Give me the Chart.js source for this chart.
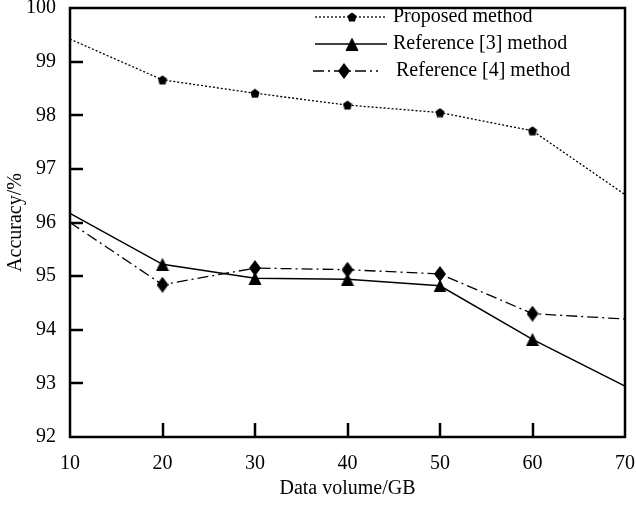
<!DOCTYPE html>
<html lang="en">
<head>
  <meta charset="UTF-8">
  <script src="https://cdn.jsdelivr.net/npm/chart.js"></script>
  <title>Accuracy</title>
  <style>
    body { margin: 0; background: #fff; }
    #wrap { width: 636px; height: 505px; }
  </style>
</head>
<body>
<div id="wrap">
  <canvas id="lineChart"></canvas>
</div>

<script>
  // data
  const volumes = [10, 20, 30, 40, 50, 60, 70];
  const proposed = [99.42, 98.66, 98.41, 98.19, 98.05, 97.71, 96.52];
  const ref3 = [96.17, 95.22, 94.96, 94.94, 94.82, 93.82, 92.95];
  const ref4 = [96.0, 94.84, 95.15, 95.12, 95.04, 94.3, 94.2];
  const yTicks = [92, 93, 94, 95, 96, 97, 98, 99, 100];
  const seriesNames = ['Proposed method', 'Reference [3] method', 'Reference [4] method'];

  const FONT = '"Liberation Serif", "Times New Roman", serif';

  function shape(w, h, draw) {
    const c = document.createElement('canvas');
    c.width = w; c.height = h;
    const g = c.getContext('2d');
    g.fillStyle = '#000';
    g.beginPath();
    draw(g);
    g.closePath();
    g.fill();
    return c;
  }
  const pentagon = shape(10, 10, g => {
    g.moveTo(5, 0.5); g.lineTo(9.5, 3.8); g.lineTo(8, 9.5); g.lineTo(2, 9.5); g.lineTo(0.5, 3.8);
  });
  const triangle = shape(14, 13, g => {
    g.moveTo(7, 0); g.lineTo(13.5, 13); g.lineTo(0.5, 13);
  });
  const diamond = shape(12, 16, g => {
    g.moveTo(6, 0); g.lineTo(12, 8); g.lineTo(6, 16); g.lineTo(0, 8);
  });

  const toPts = arr => arr.map((v, i) => ({ x: volumes[i], y: v }));
  // no markers on the two ends of each line
  const radii = volumes.map((v, i) => (i === 0 || i === volumes.length - 1) ? 0 : 5);

  const styles = [
    { dash: [2, 2], width: 1.3, marker: pentagon },
    { dash: [], width: 1.5, marker: triangle },
    { dash: [11, 4, 2, 4], width: 1.3, marker: diamond }
  ];

  const framePlugin = {
    id: 'frame',
    afterDraw(chart) {
      const ctx = chart.ctx;
      const a = chart.chartArea;
      const xs = chart.scales.x, ys = chart.scales.y;
      ctx.save();
      ctx.strokeStyle = '#000';
      ctx.fillStyle = '#000';
      ctx.lineWidth = 2.5;
      ctx.setLineDash([]);
      ctx.strokeRect(a.left, a.top, a.right - a.left, a.bottom - a.top);
      // inward tick marks, placed from the y scale's range
      yTicks.slice(1, -1).forEach(v => {
        const y = Math.round(a.bottom - (v - ys.min) / (ys.max - ys.min) * (a.bottom - a.top));
        ctx.fillRect(a.left, y - 1.25, 13, 2.5);
      });
      volumes.slice(1, -1).forEach(v => {
        const x = Math.round(xs.getPixelForValue(v));
        ctx.fillRect(x - 1.25, a.bottom - 14, 2.5, 14);
      });

      // legend
      ctx.font = '20px ' + FONT;
      ctx.textBaseline = 'middle';
      ctx.textAlign = 'left';
      const rows = [
        { y: 17, x0: 315, x1: 387, mx: 352, tx: 393 },
        { y: 44, x0: 315, x1: 387, mx: 352, tx: 393 },
        { y: 71, x0: 313, x1: 378, mx: 344, tx: 396 }
      ];
      rows.forEach((r, i) => {
        const s = styles[i];
        ctx.lineWidth = s.width;
        ctx.setLineDash(s.dash);
        ctx.beginPath();
        ctx.moveTo(r.x0, r.y); ctx.lineTo(r.x1, r.y);
        ctx.stroke();
        ctx.setLineDash([]);
        const m = s.marker;
        ctx.drawImage(m, r.mx - m.width / 2, r.y - m.height / 2);
        ctx.fillText(seriesNames[i], r.tx, r.y);
      });
      ctx.restore();
    }
  };

  const datasets = [proposed, ref3, ref4].map((arr, i) => ({
    label: seriesNames[i],
    data: toPts(arr),
    borderColor: '#000',
    backgroundColor: '#000',
    borderWidth: styles[i].width,
    borderDash: styles[i].dash,
    pointStyle: styles[i].marker,
    pointRadius: radii,
    tension: 0,
    clip: false
  }));

  new Chart(document.getElementById('lineChart'), {
    type: 'line',
    data: { datasets: datasets },
    options: {
      responsive: true,
      maintainAspectRatio: false,
      animation: false,
      layout: { padding: { top: 8, right: 11, left: 0, bottom: 0 } },
      plugins: {
        legend: { display: false },
        tooltip: { enabled: false }
      },
      scales: {
        x: {
          type: 'linear',
          min: 10, max: 70,
          afterBuildTicks: s => { s.ticks = volumes.map(v => ({ value: v })); },
          afterFit: s => { s.height = 68; s.paddingLeft = 0; s.paddingRight = 0; },
          grid: { display: false, drawTicks: false },
          border: { display: false },
          ticks: { color: '#000', font: { family: FONT, size: 20 }, padding: 15, maxRotation: 0 },
          title: { display: true, text: 'Data volume/GB', color: '#000', font: { family: FONT, size: 20 }, padding: { top: 0 } }
        },
        y: {
          min: 92, max: 100,
          afterBuildTicks: s => { s.ticks = yTicks.map(v => ({ value: v })); },
          afterFit: s => { s.width = 70; s.paddingTop = 0; s.paddingBottom = 0; },
          grid: { display: false, drawTicks: false },
          border: { display: false },
          ticks: { color: '#000', font: { family: FONT, size: 20 }, padding: 14 },
          title: { display: true, text: 'Accuracy/%', color: '#000', font: { family: FONT, size: 20 }, padding: { bottom: 0 } }
        }
      }
    },
    plugins: [framePlugin]
  });
</script>
</body>
</html>
